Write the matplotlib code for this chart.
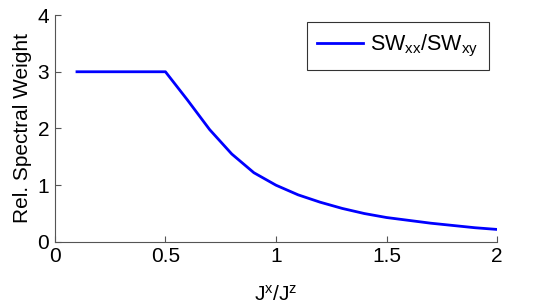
import numpy as np
import matplotlib
matplotlib.use("Agg")
import matplotlib.pyplot as plt

plt.rcParams['font.family'] = ['Liberation Sans', 'DejaVu Sans']
plt.rcParams['mathtext.fontset'] = 'custom'
plt.rcParams['mathtext.rm'] = 'Liberation Sans'
plt.rcParams['mathtext.it'] = 'Liberation Sans'

# Data
jx_jz = [0.1, 0.2, 0.3, 0.4, 0.5, 0.6, 0.7, 0.8, 0.9, 1.0,
         1.1, 1.2, 1.3, 1.4, 1.5, 1.6, 1.7, 1.8, 1.9, 2.0]
sw_ratio = [3.0, 3.0, 3.0, 3.0, 3.0, 2.5, 1.98, 1.55, 1.22, 1.0,
            0.83, 0.70, 0.59, 0.50, 0.43, 0.38, 0.33, 0.29, 0.25, 0.22]

fig = plt.figure(figsize=(5.38, 3.07), dpi=100)
ax = fig.add_axes([0.102, 0.212, 0.822, 0.739])

ax.plot(jx_jz, sw_ratio, color=(0, 0, 1), linewidth=2,
        label=r'SW$_\mathregular{xx}$/SW$_\mathregular{xy}$')

ax.set_xlim(0, 2)
ax.set_ylim(0, 4)
ax.set_xticks([0, 0.5, 1, 1.5, 2])
ax.set_xticklabels(['0', '0.5', '1', '1.5', '2'])
ax.set_yticks([0, 1, 2, 3, 4])

for side in ['top', 'right']:
    ax.spines[side].set_visible(False)
for side in ['left', 'bottom']:
    ax.spines[side].set_color('#555555')
    ax.spines[side].set_linewidth(0.8)

ax.tick_params(direction='in', length=4, width=0.8, colors='#555555',
               labelcolor='black', labelsize=15, pad=4)

ax.set_xlabel(r'$\mathregular{J^x/J^z}$', fontsize=15, labelpad=13)
ax.set_ylabel('Rel. Spectral Weight', fontsize=15, labelpad=4)

leg = ax.legend(loc='upper right', bbox_to_anchor=(0.982, 0.969), fontsize=15.5,
                frameon=True, fancybox=False, handlelength=2.1,
                borderpad=0.5, handletextpad=0.35, borderaxespad=0)
leg.get_frame().set_edgecolor('black')
leg.get_frame().set_linewidth(0.8)

plt.savefig('out.png', dpi=100)
